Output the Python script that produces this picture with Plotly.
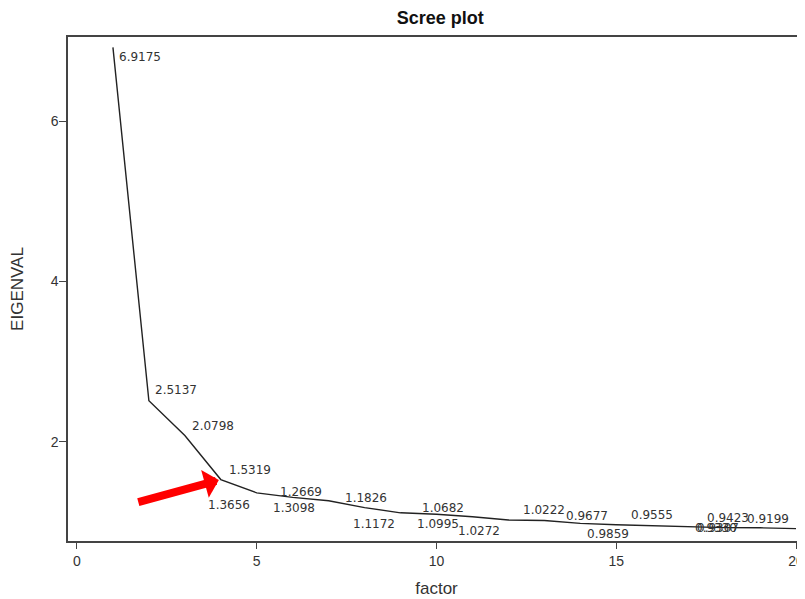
import plotly.graph_objects as go

factors = list(range(1, 21))
eigenvalues = [6.9175, 2.5137, 2.0798, 1.5319, 1.3656, 1.3098, 1.2669, 1.1826,
               1.1172, 1.0995, 1.0682, 1.0272, 1.0222, 0.9859, 0.9677, 0.9555,
               0.9423, 0.9330, 0.9307, 0.9199]
x_ticks = [0, 5, 10, 15, 20]
y_ticks = [2, 4, 6]

# label placement (style only): (xanchor, xshift, yshift)
label_pos = [("left", 4, -10), ("left", 4, 11), ("left", 5, 10), ("left", 6, 10),
             ("right", -5, -12), ("center", 1, -11), ("right", -5, 9), ("center", 1, 10),
             ("right", -4, -11), ("center", 1, -10), ("right", -6, 9), ("right", -6, -11),
             ("center", 0, 10), ("left", 5, -11), ("right", -6, 9), ("center", 0, 11),
             ("left", 17, 9), ("center", -8, 0), ("center", -42, 0), ("right", -5, 10)]

fig = go.Figure()
fig.add_trace(go.Scatter(x=factors, y=eigenvalues, mode="lines",
                         line=dict(color="#222222", width=1.4), showlegend=False))

annotations = []
for f, v, (xa, xs, ys) in zip(factors, eigenvalues, label_pos):
    annotations.append(dict(x=f, y=v, text=f"{v:.4f}", showarrow=False,
                            xanchor=xa, yanchor="middle", xshift=xs, yshift=ys,
                            font=dict(family="DejaVu Sans", size=12, color="#333333")))

# red arrow pointing at the elbow (factor 4)
annotations.append(dict(x=factors[3], y=eigenvalues[3], ax=-84, ay=23,
                        axref="pixel", ayref="pixel", text="", showarrow=True,
                        arrowhead=1, arrowsize=0.6, arrowwidth=8, arrowcolor="#ff0000",
                        standoff=2))

fig.update_layout(
    width=797, height=591,
    margin=dict(l=60, r=0, t=29, b=58, autoexpand=False),
    paper_bgcolor="white", plot_bgcolor="white",
    title=dict(text="<b>Scree plot</b>", x=0.505, xanchor="center",
               xref="paper", yref="container", y=0.983, yanchor="middle",
               automargin=False,
               font=dict(family="Liberation Sans", size=18, color="#111111")),
    annotations=annotations,
    font=dict(family="Liberation Sans", size=14, color="#333333"),
)
fig.update_xaxes(range=[-0.25, 20.25], tickvals=x_ticks, ticks="outside", ticklen=6,
                 tickcolor="#444444", showgrid=False, zeroline=False, showline=True,
                 linecolor="#444444", linewidth=1.5, mirror=True, automargin=False,
                 title=dict(text="factor", standoff=15),
                 tickfont=dict(family="Liberation Sans", size=14, color="#333333"))
fig.update_yaxes(range=[0.766, 7.047], tickvals=y_ticks, ticks="outside", ticklen=7,
                 tickcolor="#444444", showgrid=False, zeroline=False, showline=True,
                 linecolor="#444444", linewidth=1.5, automargin=False,
                 ticklabelstandoff=-2,
                 title=dict(text="EIGENVAL", standoff=23),
                 tickfont=dict(family="Liberation Sans", size=14, color="#333333"))

fig.write_html("out.html")
